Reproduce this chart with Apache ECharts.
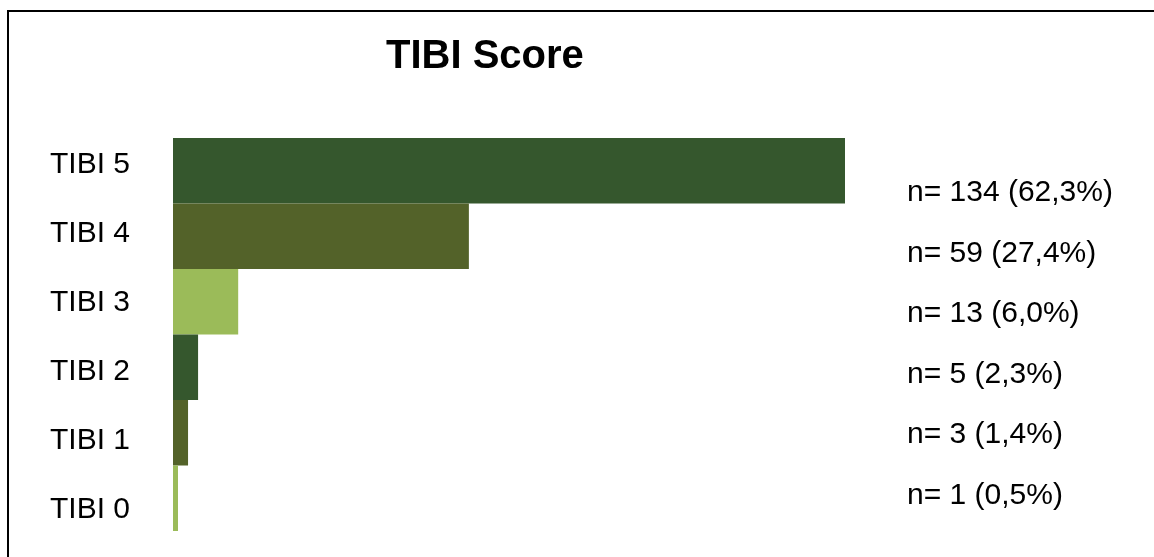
<!DOCTYPE html>
<html>
<head>
<meta charset="utf-8">
<script src="https://cdn.jsdelivr.net/npm/echarts@6/dist/echarts.min.js"></script>
<style>
html,body{margin:0;padding:0;background:#fff;}
#chart{width:1154px;height:557px;}
</style>
</head>
<body>
<div id="chart"></div>
<script>
// Data (top to bottom)
const categories = ['TIBI 5', 'TIBI 4', 'TIBI 3', 'TIBI 2', 'TIBI 1', 'TIBI 0'];
const counts = [134, 59, 13, 5, 3, 1];
const countLabels = ['n= 134 (62,3%)', 'n= 59 (27,4%)', 'n= 13 (6,0%)', 'n= 5 (2,3%)', 'n= 3 (1,4%)', 'n= 1 (0,5%)'];
const titleText = 'TIBI Score';

const palette = ['#35572D', '#536229', '#9BBB59', '#35572D', '#536229', '#9BBB59'];
const FONT = "'Liberation Sans', Arial, sans-serif";

const chart = echarts.init(document.getElementById('chart'), null, {renderer: 'canvas'});
chart.setOption({
  animation: false,
  backgroundColor: '#fff',
  title: {
    text: titleText,
    left: 386,
    top: 37,
    padding: 0,
    textStyle: {fontFamily: FONT, fontWeight: 'bold', fontSize: 40, color: '#000'}
  },
  graphic: [{
    type: 'rect',
    shape: {x: 8, y: 11, width: 1300, height: 700},
    style: {fill: 'none', stroke: '#000', lineWidth: 2},
    silent: true,
    z: 100
  }],
  grid: [
    {left: 173, right: 309, top: 138, bottom: 26},
    {left: 58, width: 72, top: 130, bottom: 13},
    {left: 890, right: 247, top: 162.5, bottom: 31.5}
  ],
  xAxis: [
    {type: 'value', gridIndex: 0, min: 0, max: 134, show: false},
    {type: 'value', gridIndex: 1, show: false},
    {type: 'value', gridIndex: 2, show: false}
  ],
  yAxis: [
    {type: 'category', gridIndex: 0, data: categories, inverse: true, show: false},
    {type: 'category', gridIndex: 1, data: categories, inverse: true, position: 'right',
      axisLine: {show: false}, axisTick: {show: false}, splitLine: {show: false},
      axisLabel: {show: true, margin: 0, inside: true, align: 'right', fontFamily: FONT, fontSize: 30, color: '#000'}},
    {type: 'category', gridIndex: 2, data: countLabels, inverse: true, position: 'right',
      axisLine: {show: false}, axisTick: {show: false}, splitLine: {show: false},
      axisLabel: {show: true, margin: 0, align: 'left', fontFamily: FONT, fontSize: 30, color: '#000'}}
  ],
  series: [{
    type: 'bar',
    xAxisIndex: 0,
    yAxisIndex: 0,
    data: counts,
    barCategoryGap: '0%',
    itemStyle: {color: function (p) { return palette[p.dataIndex]; }}
  }]
});
</script>
</body>
</html>
